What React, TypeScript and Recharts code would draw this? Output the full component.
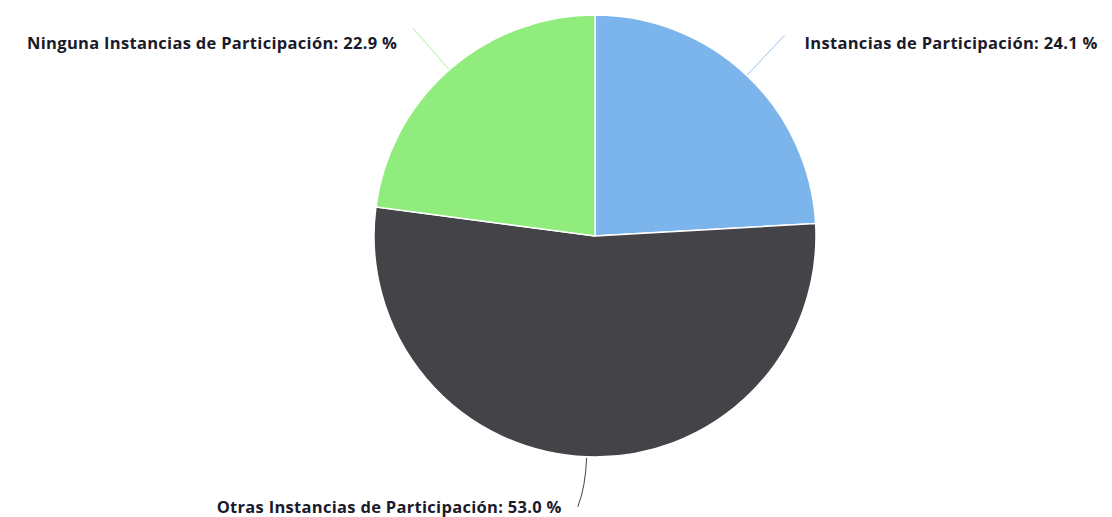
import { PieChart, Pie, Cell } from 'recharts';

const categories = [
  'Instancias de Participación',
  'Otras Instancias de Participación',
  'Ninguna Instancias de Participación',
];
const shares = [24.1, 53.0, 22.9];
const colors = ['#7cb5ec', '#434348', '#90ed7d'];

const data = categories.map((name, i) => ({ name, value: shares[i] }));

const RAD = Math.PI / 180;

const renderLabel = (props: any) => {
  const { cx, cy, midAngle, outerRadius, index } = props;
  const cos = Math.cos(-midAngle * RAD);
  const sin = Math.sin(-midAngle * RAD);
  const top = sin < 0;
  const len = top ? 55 : 50;
  const sx = cx + (outerRadius + 1) * cos;
  const sy = cy + (outerRadius + 1) * sin;
  const mx = cx + (outerRadius + len * 0.6) * cos;
  const my = cy + (outerRadius + len * 0.6) * sin;
  const right = cos > 0;
  const ex = cx + (outerRadius + len) * cos + (top ? 0 : -7);
  const ey = cy + (outerRadius + len) * sin;
  const tx = ex + (right ? 20 : -16);
  // top labels share one row above the pie, bottom label sits under the line end
  const ty = top ? cy - outerRadius + 27 : ey;
  return (
    <g>
      <path
        d={`M${sx},${sy} Q${mx},${my} ${ex},${ey}`}
        stroke={colors[index]}
        strokeOpacity={index === 1 ? 1 : 0.8}
        fill="none"
        strokeWidth={1}
      />
      <text
        x={tx}
        y={ty}
        textAnchor={right ? 'start' : 'end'}
        dominantBaseline="central"
        fontFamily="'Open Sans', sans-serif"
        fontWeight="bold"
        fontSize={16.5}
        letterSpacing={0.3}
        fill="#1a1a2a"
      >
        {`${categories[index]}: ${shares[index].toFixed(1)} %`}
      </text>
    </g>
  );
};

export default function App() {
  return (
    <div style={{ position: 'absolute', left: 0, top: 0, width: 1112, height: 517, background: '#fff' }}>
      <PieChart width={1112} height={517} margin={{ top: 0, right: 0, bottom: 0, left: 0 }}>
        <Pie
          data={data}
          dataKey="value"
          nameKey="name"
          cx={595}
          cy={236}
          outerRadius={221}
          startAngle={90}
          endAngle={-270}
          stroke="#ffffff"
          strokeWidth={1.5}
          label={renderLabel}
          labelLine={false}
          isAnimationActive={false}
        >
          {data.map((d, i) => (
            <Cell key={d.name} fill={colors[i]} />
          ))}
        </Pie>
      </PieChart>
    </div>
  );
}
